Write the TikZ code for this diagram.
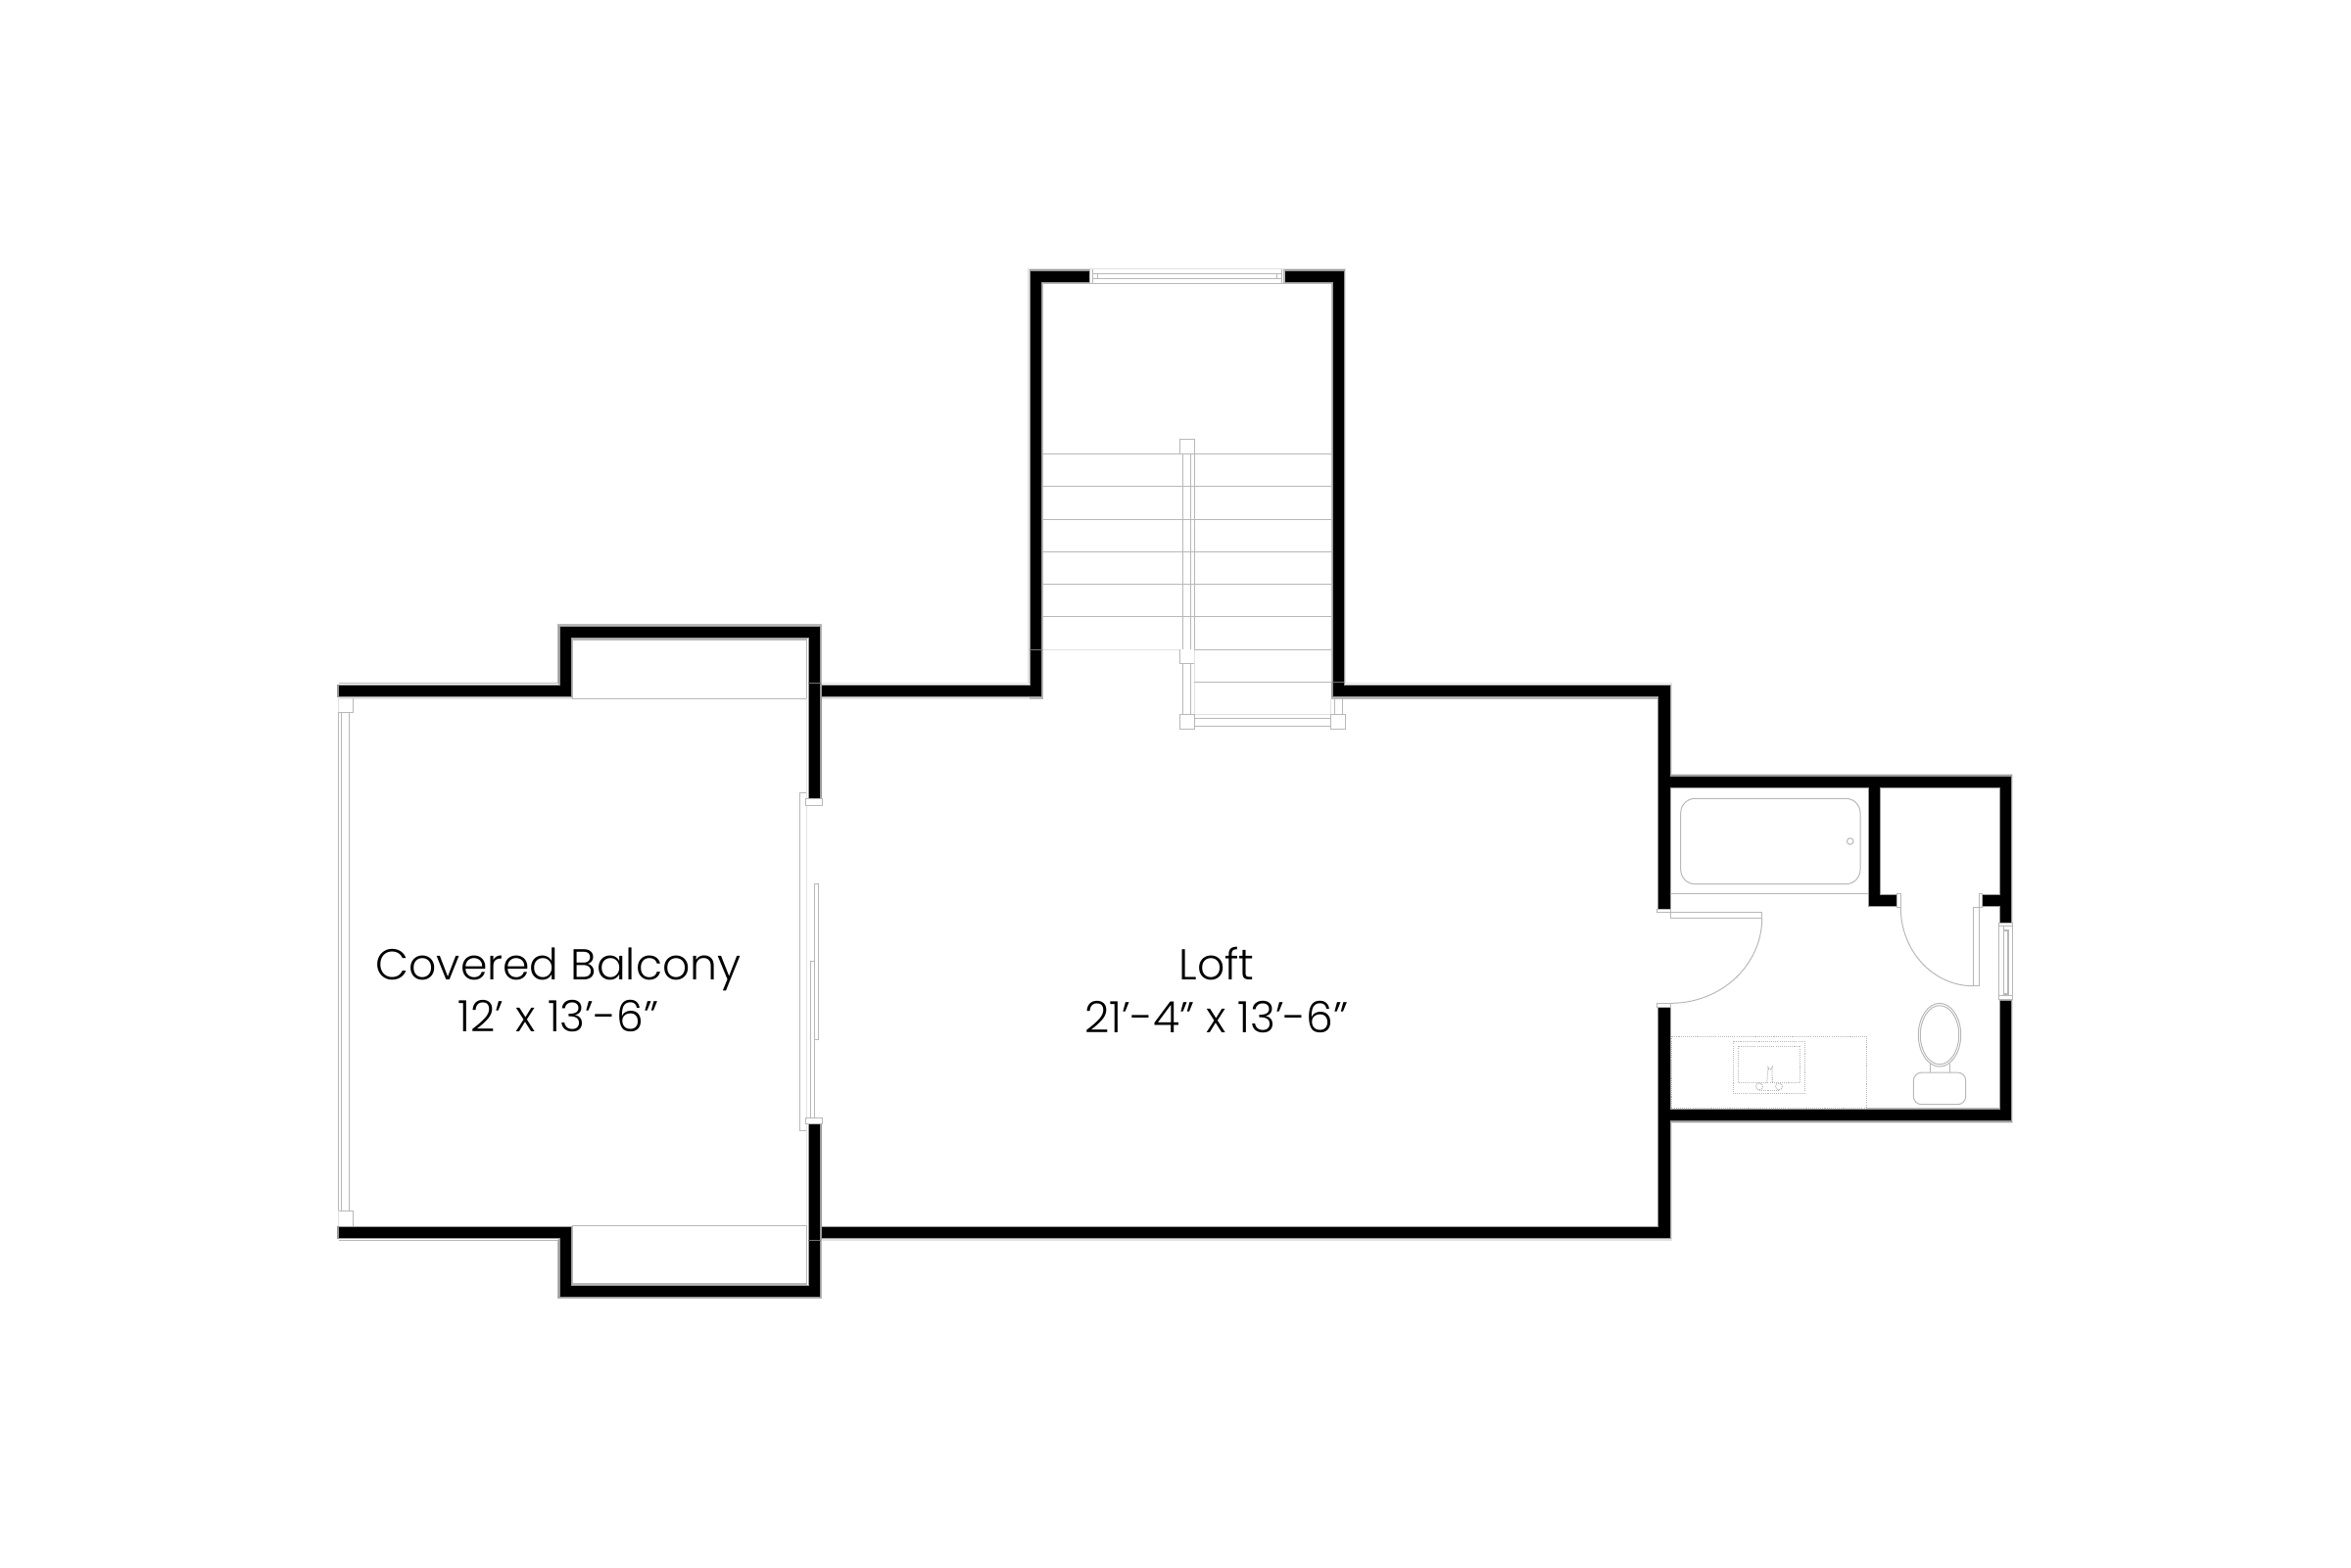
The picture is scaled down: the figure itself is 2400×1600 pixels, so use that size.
\documentclass[tikz,border=0pt]{standalone}
\usepackage{fontspec}
\setmainfont{Poppins Light}
\tikzset{
  wallfill/.style={fill=black,draw=wallgray,line width=0.3pt},
  thin line/.style={draw=linegray,line width=0.33pt},
  pale line/.style={draw=palegray,line width=0.33pt},
  seam/.style={draw=seamgray,line width=0.3pt},
  fixture/.style={draw=linegray,line width=0.28pt},
  dotline/.style={draw=linegray,line width=0.3pt,dash pattern=on 0.3pt off 0.3pt},
  roomlabel/.style={font=\fontsize{12.55pt}{15.17pt}\selectfont,align=center,text=black,inner sep=0pt}
}
\definecolor{wallgray}{HTML}{9A9A9A}
\definecolor{linegray}{HTML}{B8B8B8}
\definecolor{palegray}{HTML}{E2E2E2}
\definecolor{seamgray}{HTML}{707070}
\begin{document}
\begin{tikzpicture}[x=0.1mm,y=-0.1mm]
\useasboundingbox (0,0) rectangle (2400,1600);
\fill[white] (0,0) rectangle (2400,1600);
% walls
\path[wallfill] (345,699.3)--(571,699.3)--(571,639.3)--(838,639.3)--(838,815.7)--(825.4,815.7)--(825.4,651.7)--(583.2,651.7)--(583.2,711.3)--(345,711.3)--cycle;
\path[wallfill] (345,1252.3)--(583.2,1252.3)--(583.2,1312.3)--(825.4,1312.3)--(825.4,1147.7)--(838,1147.7)--(838,1324)--(571,1324)--(571,1264.3)--(345,1264.3)--cycle;
\path[wallfill] (838,699.3)--(1051.3,699.3)--(1051.3,276)--(1112.3,276)--(1112.3,288.3)--(1064,288.3)--(1064,711.7)--(838,711.7)--cycle;
\path[wallfill] (1311.3,276)--(1372.3,276)--(1372.3,699.3)--(1705,699.3)--(1705,792)--(2053.3,792)--(2053.3,942.3)--(2041.3,942.3)--(2041.3,925.7)--(2023.3,925.7)--(2023.3,913.3)--(2041.3,913.3)--(2041.3,804.3)--(1919,804.3)--(1919,913.3)--(1936.7,913.3)--(1936.7,925.7)--(1907,925.7)--(1907,804.3)--(1705,804.3)--(1705,928.3)--(1692,928.3)--(1692,711.7)--(1360,711.7)--(1360,288.3)--(1311.3,288.3)--cycle;
\path[wallfill] (1692,1028.3)--(1705,1028.3)--(1705,1132.3)--(2041.3,1132.3)--(2041.3,1021.7)--(2053.3,1021.7)--(2053.3,1145)--(1705,1145)--(1705,1264.3)--(838,1264.3)--(838,1252.3)--(1692,1252.3)--cycle;
% seams across walls
\path[seam] (825.4,697.3)--(838,697.3) (825.4,1266.3)--(838,1266.3) (1051.3,663.3)--(1064,663.3) (1360,696.3)--(1372.3,696.3);
% outer outlines
\path[thin line] (345.5,697.3)--(569.3,697.3)--(569.3,638)--(838.6,638)--(838.6,697.5);
\path[thin line] (345.5,1266.3)--(569.3,1266.3)--(569.3,1325.5)--(838.6,1325.5)--(838.6,1266.3);
\path[thin line] (584.3,653)--(823.8,653)--(823.8,713.3)--(584.3,713.3)--cycle;
\path[thin line] (584.3,1251.3)--(823.8,1251.3)--(823.8,1311)--(584.3,1311)--cycle;
\path[pale line] (345.5,713)--(584,713) (838.6,713)--(1051,713) (838.6,697.5)--(1050,697.5)--(1050,274.5)--(1373.7,274.5)--(1373.7,697.5)--(1706.5,697.5)--(1706.5,790.7)--(2054.7,790.7)--(2054.7,942);
\path[pale line] (823.8,713)--(823.8,815) (823.8,1148)--(823.8,1251) (838.6,1266)--(1706.5,1266)--(1706.5,1146.5)--(2054.7,1146.5)--(2054.7,1021);
\path[thin line] (1051,713)--(1064.8,713)--(1064.8,289.2)--(1359.2,289.2)--(1359.2,697) (1359.2,713)--(1692,713);
% top window
\path[thin line] (1112.8,274.5)--(1112.8,289) (1115.3,274.5)--(1115.3,289) (1308.7,274.5)--(1308.7,289) (1311,274.5)--(1311,289);
\path[thin line] (1115.3,279.3)--(1308.7,279.3) (1115.3,284.3)--(1308.7,284.3);
\path[thin line] (1120.3,279.3)--(1120.3,284.3) (1303.3,279.3)--(1303.3,284.3);
% stair treads
\path[thin line] (1064.8,463.3)--(1359,463.3) (1064.8,496.3)--(1359,496.3) (1064.8,530.3)--(1359,530.3) (1064.8,563.3)--(1359,563.3) (1064.8,596.3)--(1359,596.3) (1064.8,629.3)--(1359,629.3);
\path[pale line] (1064.8,663.3)--(1204.3,663.3) (1219.3,663.3)--(1219.3,729.3)--(1358.3,729.3)--(1358.3,713.5);
\path[thin line] (1219.3,663.3)--(1359,663.3) (1219.3,696.3)--(1359,696.3);
% stair rails and posts
\path[thin line] (1204.3,463.3)--(1204.3,448.3)--(1219.3,448.3)--(1219.3,663.3);
\path[thin line] (1207.7,463.3)--(1207.7,663.3) (1215.3,463.3)--(1215.3,663.3);
\path[thin line] (1207.7,677.3)--(1207.7,729.3) (1215.3,677.3)--(1215.3,729.3);
\path[thin line] (1204.3,663.3)--(1204.3,677.3)--(1219.3,677.3);
\path[thin line] (1204.3,729.3) rectangle (1219.3,744.3);
\path[thin line] (1358.3,729.3) rectangle (1373.3,744.3);
\path[thin line] (1219.3,733.3)--(1358.3,733.3) (1219.3,741.3)--(1358.3,741.3);
\path[thin line] (1362.3,713.3)--(1362.3,729.3) (1370.3,713.3)--(1370.3,729.3);
% left sliding wall
\path[thin line] (348.6,727.3)--(348.6,1236.3) (356.4,727.3)--(356.4,1236.3);
\path[thin line] (345.7,727.3)--(345.7,1236.3);
\path[pale line] (345.7,713.3)--(345.7,727.3) (345.7,1236.3)--(345.7,1252);
\path[thin line] (345.7,727.3)--(360.7,727.3)--(360.7,713.3);
\path[thin line] (345.7,1236.3)--(360.7,1236.3)--(360.7,1251.7);
% balcony slider
\path[thin line] (822.7,809.3)--(816.3,809.3)--(816.3,1154.3)--(822.7,1154.3);
\path[thin line,fill=white] (822.7,815.7) rectangle (839.7,822.5);
\path[thin line,fill=white] (822.7,1141.3) rectangle (839.7,1147.7);
\path[pale line] (823.3,822.5)--(823.3,1141.3);
\path[thin line] (831.3,981.3)--(831.3,902.3)--(835.7,902.3)--(835.7,1061.7)--(831.3,1061.7);
\path[thin line] (831.3,981.3)--(827.3,981.3)--(827.3,1141.3) (831.3,981.3)--(831.3,1141.3);
% bathroom entry door
\path[thin line,fill=white] (1691.3,928.3) rectangle (1705.7,931.7);
\path[thin line,fill=white] (1691.3,1024.3) rectangle (1705.7,1028.3);
\path[thin line] (1705.7,931.7) rectangle (1798.7,937.3);
\path[fixture] (1798.7,937.3) arc[start angle=0,end angle=90,x radius=93,y radius=87];
% closet door
\path[thin line] (1936.7,912.8) rectangle (1940.3,926.7);
\path[thin line] (2020.3,912.8) rectangle (2023.3,926.7);
\path[thin line] (2014.3,926.7) rectangle (2020.3,1006.7);
\path[fixture] (1940.3,926.7) arc[start angle=180,end angle=270,x radius=74,y radius=-80];
% right window
\path[thin line] (2040.3,942.3) rectangle (2054.7,1020.7);
\path[thin line] (2040.3,945.7)--(2054.7,945.7) (2040.3,1016.7)--(2054.7,1016.7);
\path[thin line] (2045.3,950) rectangle (2050,1015);
\path[thin line] (2045.3,945.7)--(2045.3,1016.7);
% tub
\path[fixture] (1705,912.3)--(1907,912.3);
\path[fixture,rounded corners=4.2pt] (1715.7,815.3) rectangle (1899,902.7);
\path[fixture] (1888.7,859) circle[radius=3.3];
% vanity
\path[dotline] (1706,1058.3) rectangle (1905.7,1131.7);
\path[dotline] (1769.3,1063.3) rectangle (1842.3,1116.7);
\path[dotline] (1774.3,1068.3) rectangle (1837.7,1105.7);
\path[dotline] (1803.7,1105.7)--(1805,1090) arc[start angle=180,end angle=0,radius=2]--(1809.3,1105.7);
\path[dotline] (1796,1109.3) circle[radius=3.5] (1816,1109.3) circle[radius=3.5];
\path[dotline] (1796,1113.3)--(1816,1113.3);
% toilet
\path[fixture] (1980,1056.7) ellipse[x radius=21.7,y radius=32.3];
\path[fixture] (1980,1056.7) ellipse[x radius=19.7,y radius=30];
\path[fixture] (1970.3,1085)--(1970.3,1095) (1990.7,1085.5)--(1990.7,1095);
\path[fixture,rounded corners=2.4pt] (1953.3,1095) rectangle (2006.7,1127.7);
\path[thin line] (1905.7,1131.7)--(2041,1131.7);
% labels
\node[roomlabel] (balcony) at (570,1011) {Covered Balcony\\12’ x 13’-6”};
\node[roomlabel] (loft) at (1242,1011) {Loft\\21’-4” x 13’-6”};
\end{tikzpicture}
\end{document}
